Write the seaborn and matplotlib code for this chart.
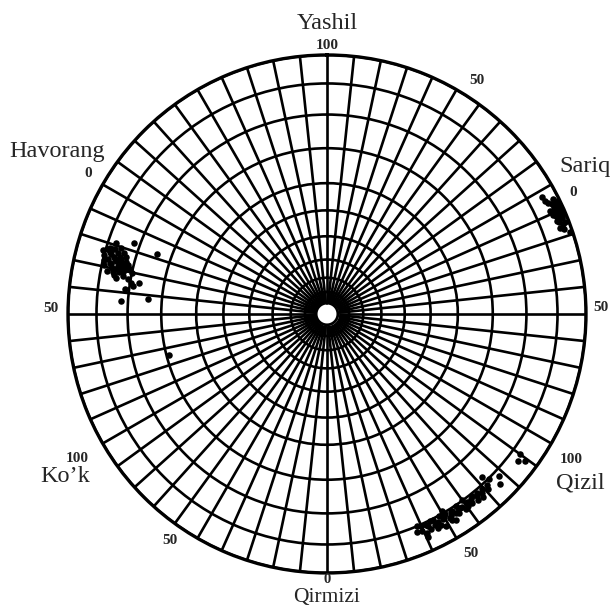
import numpy as np
import pandas as pd
import matplotlib
matplotlib.use("Agg")
import matplotlib.pyplot as plt
import seaborn as sns

# Hue circle: colour names and their angle (degrees, clockwise from top)
hue_names = ["Yashil", "Sariq", "Qizil", "Qirmizi", "Ko\u2019k", "Havorang"]
hue_angles = [0, 60, 120, 180, 240, 300]

# Scale numbers around the rim
scale_angles = [0, 30, 60, 90, 120, 150, 180, 210, 240, 270, 300]
scale_labels = ["100", "50", "0", "50", "100", "50", "0", "50", "100", "50", "0"]

# Grid of the chart
ring_levels = [8.5, 14, 21, 30, 40, 50.5, 64, 77, 89, 100]
spoke_step = 6
hub_radius = 4.2

# Measured samples (angle in degrees, radius)
sariq_theta = [65.0, 66.0, 64.5, 66.8, 65.5, 67.2, 64.0, 63.0, 62.6, 63.4,
               65.8, 67.8, 68.5, 69.2, 66.4, 64.8, 67.0, 65.2, 68.0, 69.8,
               66.2, 64.2, 63.8, 67.5, 68.8, 70.2, 65.6, 66.9, 61.4, 71.4,
               65.5, 66.5, 64.8, 67.5, 66.0]
sariq_r = [97.5, 97.0, 98.2, 98.5, 96.3, 96.8, 96.8, 97.8, 94.8, 95.6,
           99.0, 97.9, 96.4, 97.3, 95.4, 99.3, 99.5, 95.0, 95.6, 96.0,
           98.0, 97.5, 99.0, 98.2, 98.7, 97.4, 96.0, 96.0, 94.5, 99.0,
           98.5, 97.2, 96.8, 97.0, 99.0]

havorang_theta = [283.0, 284.5, 282.0, 285.5, 286.5, 284.0, 281.5, 280.5, 282.5, 283.5,
                  285.0, 287.0, 286.0, 284.8, 281.0, 279.8, 280.0, 279.0, 281.8, 283.8,
                  285.8, 287.8, 288.5, 283.2, 282.3, 284.2, 286.2, 282.8, 278.2, 273.6,
                  274.8, 290.2, 289.4, 255.5, 286.9, 277.0, 279.5,
                  281.0, 282.0, 283.0, 284.0, 285.0, 286.0, 283.5, 284.5, 282.5, 281.5,
                  285.5, 287.0, 280.5, 286.8, 283.0]
havorang_r = [83.0, 84.5, 85.0, 86.5, 88.5, 87.0, 82.0, 80.0, 79.5, 81.0,
              82.5, 85.5, 90.0, 89.0, 84.0, 82.5, 78.0, 76.5, 77.0, 79.0,
              80.5, 83.5, 86.0, 86.0, 88.0, 84.0, 84.0, 80.8, 75.7, 79.7,
              69.4, 79.6, 69.6, 63.0, 86.3, 78.5, 73.5,
              86.5, 83.5, 85.5, 82.0, 85.0, 87.0, 88.5, 80.0, 82.0, 80.5,
              83.0, 87.5, 83.5, 81.8, 78.0]

qizil_theta = [157.0, 156.4, 155.6, 155.0, 153.5, 152.0, 151.0, 150.0, 149.0, 148.0,
               147.0, 146.2, 145.5, 144.5, 143.3, 142.5, 141.5, 140.5, 139.5, 138.5,
               137.5, 136.4, 134.5, 133.3, 135.5, 126.0, 126.6, 127.5, 152.5, 149.8,
               147.8, 144.0, 154.2, 150.8,
               156.0, 154.5, 153.0, 151.5, 150.5, 149.5, 148.5, 147.5, 146.5, 145.0,
               143.8, 142.0, 141.0, 152.8, 148.8, 146.0, 140.0, 139.0, 137.0, 155.5,
               157.5]
qizil_r = [88.8, 91.5, 94.5, 90.0, 89.5, 91.0, 89.0, 90.5, 92.0, 90.0,
           91.5, 89.2, 90.8, 92.5, 90.5, 91.8, 89.8, 91.0, 92.8, 90.2,
           91.8, 86.9, 93.6, 91.2, 89.5, 91.9, 95.2, 93.0, 93.0, 88.0,
           93.8, 88.6, 92.2, 94.0,
           89.5, 90.5, 91.5, 92.5, 91.0, 89.5, 91.5, 90.0, 92.0, 91.0,
           92.0, 90.5, 92.5, 89.5, 93.2, 90.2, 90.0, 91.5, 90.5, 92.8,
           91.0]

samples = pd.DataFrame({
    "theta": np.deg2rad(sariq_theta + havorang_theta + qizil_theta),
    "r": sariq_r + havorang_r + qizil_r,
})

sns.set_style("white")
plt.rcParams["font.family"] = ["Liberation Serif", "DejaVu Serif"]

fig = plt.figure(figsize=(6.16, 6.08), dpi=100)
ax = fig.add_axes([0.1104, 0.0576, 0.8409, 0.852], projection="polar")
ax.set_theta_zero_location("N")
ax.set_theta_direction(-1)
ax.set_ylim(0, 100)

# rings and spokes
ax.set_rgrids(ring_levels, labels=[])
ax.set_thetagrids(np.arange(0, 360, spoke_step), labels=[])
ax.grid(True, color="black", linewidth=1.9)
ax.set_axisbelow(True)
ax.tick_params(length=0)
ax.spines["polar"].set_linewidth(2.4)
ax.spines["polar"].set_color("black")

# open hub in the middle
hub_t = np.linspace(0, 2 * np.pi, 200)
ax.fill_between(hub_t, 0, hub_radius, color="white", zorder=2)
ax.plot(hub_t, np.full_like(hub_t, hub_radius), color="black", lw=2.0, zorder=2.1)

sns.scatterplot(data=samples, x="theta", y="r", ax=ax, color="black",
                s=22, linewidth=0, zorder=3, legend=False)
ax.set_xlabel("")
ax.set_ylabel("")

# colour names
name_r = [112, 114.7, 117.5, 109.5, 119, 121.7]
name_dt = [0, 0.3, 3.7, 0, -1.9, 1.0]
name_size = [17.5, 17.5, 17.5, 15.5, 17.5, 17.5]
for name, ang, rr, dt, fs in zip(hue_names, hue_angles, name_r, name_dt, name_size):
    ax.text(np.deg2rad(ang + dt), rr, name, ha="center", va="center",
            fontsize=fs, clip_on=False)

# rim numbers
num_r = [103.5, 107, 106, 105.8, 110, 107.8, 102.6, 106.3, 111.4, 106.6, 107]
num_dt = [0, 2.7, 3.7, -1.3, 0.8, -1, 0, 4.8, 0, 1.2, 0.5]
num_size = [11, 11, 11, 11, 11, 11, 10.5, 11, 11, 11, 11]
for lab, ang, rr, dt, fs in zip(scale_labels, scale_angles, num_r, num_dt, num_size):
    ax.text(np.deg2rad(ang + dt), rr, lab, ha="center", va="center",
            fontsize=fs, fontweight="bold", clip_on=False)

fig.savefig("out.png", dpi=100, facecolor="white")
